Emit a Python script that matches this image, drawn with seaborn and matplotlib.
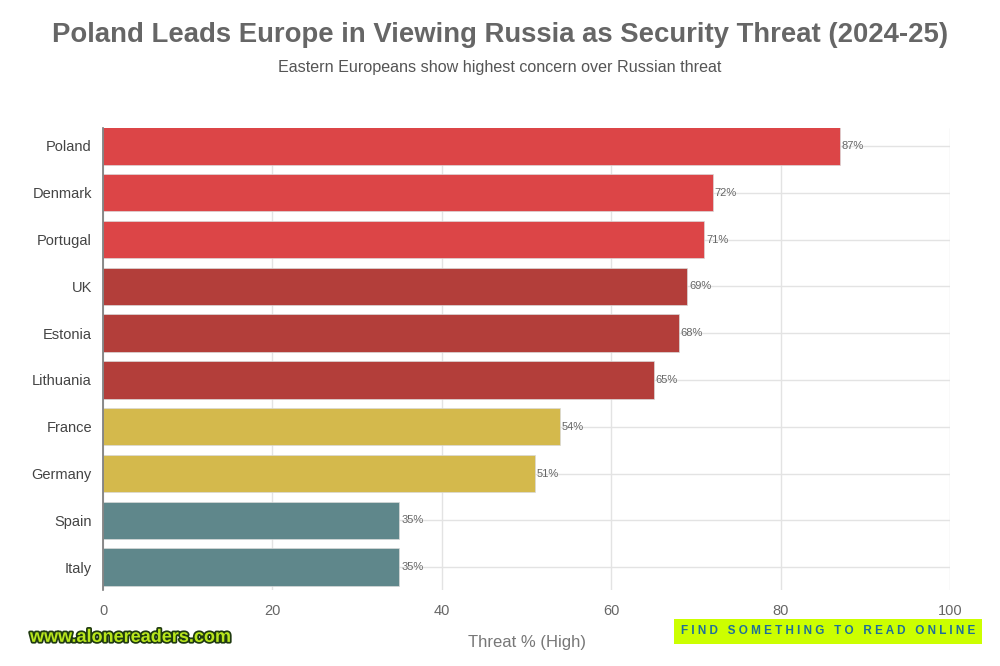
import matplotlib
matplotlib.use("Agg")
import matplotlib.pyplot as plt
import matplotlib.patheffects as pe
import seaborn as sns
import pandas as pd

countries = ["Poland", "Denmark", "Portugal", "UK", "Estonia", "Lithuania",
             "France", "Germany", "Spain", "Italy"]
threat = [87, 72, 71, 69, 68, 65, 54, 51, 35, 35]
groups = ["high", "high", "high", "mid", "mid", "mid", "low", "low", "vlow", "vlow"]
palette = {"high": "#DC4547", "mid": "#B33E3A", "low": "#D4B94C", "vlow": "#5F878B"}

df = pd.DataFrame({"country": countries, "threat": threat, "group": groups})

sns.set_style("white")
plt.rcParams["font.family"] = ["Liberation Sans", "DejaVu Sans"]

fig = plt.figure(figsize=(10, 6.66), dpi=100)
ax = fig.add_axes([0.103, 0.114, 0.847, 0.694])

sns.barplot(data=df, x="threat", y="country", hue="group", palette=palette,
            dodge=False, legend=False, width=0.8, ax=ax, saturation=1,
            edgecolor="#d9d9d9", linewidth=0.5, zorder=3)

ax.set_xlim(0, 100)
ax.set_ylim(9.49, -0.385)
ax.set_xticks([0, 20, 40, 60, 80, 100])
ax.grid(True, color="#e3e3e3", linewidth=1, zorder=0)
ax.set_axisbelow(True)
for s in ["top", "right", "bottom"]:
    ax.spines[s].set_visible(False)
ax.spines["left"].set_color("#777777")
ax.spines["left"].set_linewidth(1.2)
ax.spines["left"].set_zorder(5)
ax.tick_params(axis="both", length=0, labelsize=10.5, colors="#444444", pad=8)
ax.tick_params(axis="x", colors="#666666", pad=10)
ax.set_ylabel("")
ax.set_xlabel("Threat % (High)", fontsize=12, color="#777777", labelpad=12)

for i, v in enumerate(threat):
    ax.text(v + 0.2, i, f"{v}%", va="center", ha="left", fontsize=8, color="#666666", zorder=4)

fig.text(0.5, 0.948, "Poland Leads Europe in Viewing Russia as Security Threat (2024-25)",
         ha="center", va="center", fontsize=19.8, fontweight="bold", color="#666666")
fig.text(0.5, 0.898, "Eastern Europeans show highest concern over Russian threat",
         ha="center", va="center", fontsize=11.6, color="#555555")

fig.text(0.03, 0.043, "www.alonereaders.com", ha="left", va="center", fontsize=13,
         fontweight="bold", color="#b8e61d",
         path_effects=[pe.withStroke(linewidth=2.5, foreground="#1f3a10")])
fig.text(0.828, 0.052, "F I N D   S O M E T H I N G   T O   R E A D   O N L I N E",
         ha="center", va="center", fontsize=8.5, fontweight="bold", color="#1f6f9a",
         bbox=dict(boxstyle="square,pad=0.55", facecolor="#CCFF00", edgecolor="none"))

fig.savefig("out.png", dpi=100, facecolor="white")
